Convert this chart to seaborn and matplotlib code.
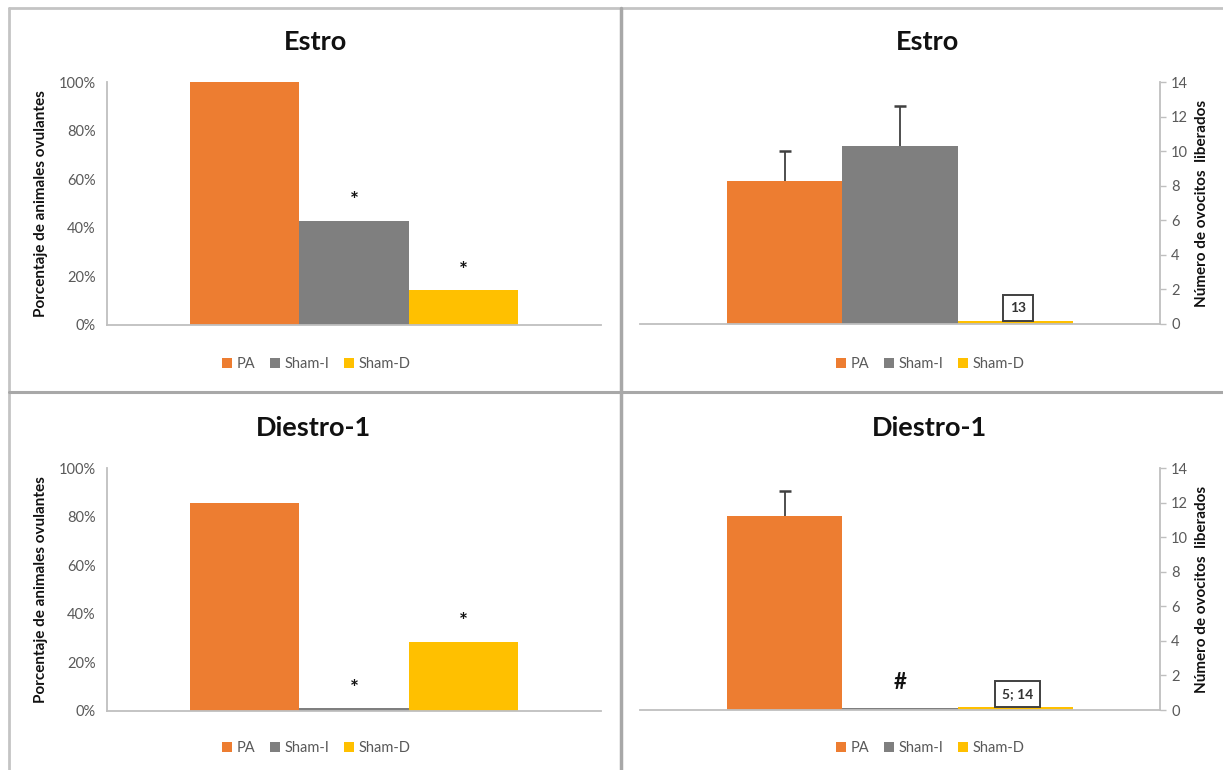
import matplotlib
matplotlib.use("Agg")
import matplotlib.pyplot as plt
from matplotlib.lines import Line2D
from matplotlib.patches import Patch
from matplotlib.ticker import PercentFormatter
import seaborn as sns
import pandas as pd

sns.set_theme(style="white")
plt.rcParams["font.family"] = ["Lato", "DejaVu Sans"]

# Groups and colours
grupos = ["PA", "Sham-I", "Sham-D"]
colores = ["#ED7D31", "#7F7F7F", "#FFC000"]
fases = ["Estro", "Diestro-1"]

# Percentage of ovulating animals (%)
ovulantes_estro = [100.0, 42.9, 14.3]
ovulantes_diestro = [85.7, 1.2, 28.6]
signif_ovul_estro = ["", "*", "*"]
signif_ovul_diestro = ["", "*", "*"]

# Number of released oocytes (mean and upper error)
ovocitos_estro = [8.3, 10.3, 0.15]
error_estro = [1.7, 2.3, 0.0]
ovocitos_diestro = [11.2, 0.1, 0.15]
error_diestro = [1.45, 0.0, 0.0]
etiqueta_ovoc_estro = ["", "", "13"]
etiqueta_ovoc_diestro = ["", "#", "5; 14"]

W, H = 1223, 770
fig = plt.figure(figsize=(W / 100, H / 100), dpi=100)


def fx(px):
    return px / W


def fy(py):
    return 1 - py / H


def ax_rect(x0, x1, y_top, y_bot):
    return [fx(x0), fy(y_bot), fx(x1) - fx(x0), fy(y_top) - fy(y_bot)]


axis_gray = "#BFBFBF"
tick_gray = "#595959"


def draw_panel(rect, fase, valores, lado, title_x, title_y, legend_xy,
               ylim, yticks, ylabel, errores=None, marcas=None, cajas=None):
    ax = fig.add_axes(rect)
    df = pd.DataFrame({"fase": [fase] * 3, "grupo": grupos, "valor": valores})
    sns.barplot(data=df, x="fase", y="valor", hue="grupo", hue_order=grupos,
                palette=colores, width=0.665, saturation=1, errorbar=None,
                legend=False, ax=ax, linewidth=0)
    ax.set_xlim(-0.5, 0.5)
    ax.set_ylim(*ylim)
    ax.set_yticks(yticks)
    ax.set_xticks([])
    ax.set_xlabel("")
    for s in ["top", "left", "right", "bottom"]:
        ax.spines[s].set_visible(False)
    ax.spines["bottom"].set_visible(True)
    ax.spines["bottom"].set_color(axis_gray)
    ax.spines["bottom"].set_linewidth(1.3)
    ax.spines[lado].set_visible(True)
    ax.spines[lado].set_color(axis_gray)
    ax.spines[lado].set_linewidth(1.3)
    if lado == "right":
        ax.yaxis.tick_right()
        ax.yaxis.set_label_position("right")
        ax.set_ylabel(ylabel, fontsize=11, fontweight="bold", color="#111111",
                      labelpad=5)
    else:
        ax.set_ylabel(ylabel, fontsize=11, fontweight="bold", color="#111111",
                      labelpad=8)
    ax.tick_params(axis="y", length=4, width=1, color=axis_gray,
                   labelsize=10.5, labelcolor=tick_gray, pad=4)
    ax.patch.set_alpha(0)

    bars = [p for p in ax.patches if p.get_width() > 0][:3]
    centros = [b.get_x() + b.get_width() / 2 for b in bars]
    alto = [b.get_height() for b in bars]

    if errores is not None:
        for cx, h, e in zip(centros, alto, errores):
            if e > 0:
                _, caps, _ = ax.errorbar(cx, h, yerr=[[0], [e]], fmt="none",
                                         ecolor="#404040", elinewidth=1.3,
                                         capsize=4, capthick=1.8, zorder=3)
                # only the upper cap is shown
                caps[0].set_visible(False)
    if marcas is not None:
        offset = (ylim[1] - ylim[0]) * 0.08
        for cx, h, m in zip(centros, alto, marcas):
            if m:
                ax.text(cx, h + offset, m, ha="center", va="center",
                        fontsize=15, fontweight="bold", color="#111111")
    if cajas is not None:
        for cx, h, c in zip(centros, alto, cajas):
            if not c:
                continue
            if c == "#":
                ax.text(cx, 1.6, c, ha="center", va="center", fontsize=16,
                        fontweight="bold", color="#111111")
            else:
                ax.text(cx + 0.005, 0.95, c, ha="center", va="center",
                        fontsize=10, fontweight="bold", color="#333333",
                        bbox=dict(boxstyle="square,pad=0.5", fc="white",
                                  ec="#404040", lw=1.4))

    fig.text(fx(title_x), fy(title_y), fase, ha="center", va="center",
             fontsize=19.5, fontweight="bold", color="#111111")
    handles = [Patch(facecolor=c, edgecolor="none", label=g)
               for g, c in zip(grupos, colores)]
    leg = ax.legend(handles=handles, loc="center", ncol=3,
                    bbox_to_anchor=(fx(legend_xy[0]), fy(legend_xy[1])),
                    bbox_transform=fig.transFigure, frameon=False,
                    fontsize=10.5, handlelength=0.7, handleheight=0.7,
                    handletextpad=0.3, columnspacing=1.0)
    for t in leg.get_texts():
        t.set_color(tick_gray)
    return ax


pct_ticks = [0, 20, 40, 60, 80, 100]
num_ticks = [0, 2, 4, 6, 8, 10, 12, 14]
lab_pct = "Porcentaje de animales ovulantes"
lab_num = "Número de ovocitos  liberados"

a1 = draw_panel(ax_rect(107, 601, 82, 325), fases[0], ovulantes_estro, "left",
                315, 42, (316, 364), (0, 100), pct_ticks, lab_pct,
                marcas=signif_ovul_estro)
a2 = draw_panel(ax_rect(640, 1160, 82, 324), fases[0], ovocitos_estro, "right",
                928, 42, (930, 364), (0, 14), num_ticks, lab_num,
                errores=error_estro, cajas=etiqueta_ovoc_estro)
a3 = draw_panel(ax_rect(107, 601, 468, 711), fases[1], ovulantes_diestro, "left",
                314, 428, (316, 748), (0, 100), pct_ticks, lab_pct,
                marcas=signif_ovul_diestro)
a4 = draw_panel(ax_rect(640, 1160, 468, 710), fases[1], ovocitos_diestro, "right",
                929, 428, (930, 748), (0, 14), num_ticks, lab_num,
                errores=error_diestro, cajas=etiqueta_ovoc_diestro)

for a in (a1, a3):
    a.yaxis.set_major_formatter(PercentFormatter(decimals=0))

# Panel frame and dividers
frame = "#C4C4C4"
div = "#A8A8A8"
fig.add_artist(Line2D([fx(9), fx(1223)], [fy(8), fy(8)], color=frame, lw=2))
fig.add_artist(Line2D([fx(9), fx(9)], [fy(8), fy(770)], color=frame, lw=2))
fig.add_artist(Line2D([fx(621), fx(621)], [fy(8), fy(770)], color=div, lw=2.5))
fig.add_artist(Line2D([fx(9), fx(1223)], [fy(392), fy(392)], color=div, lw=2.2))

fig.savefig("out.png", dpi=100, facecolor="white")
